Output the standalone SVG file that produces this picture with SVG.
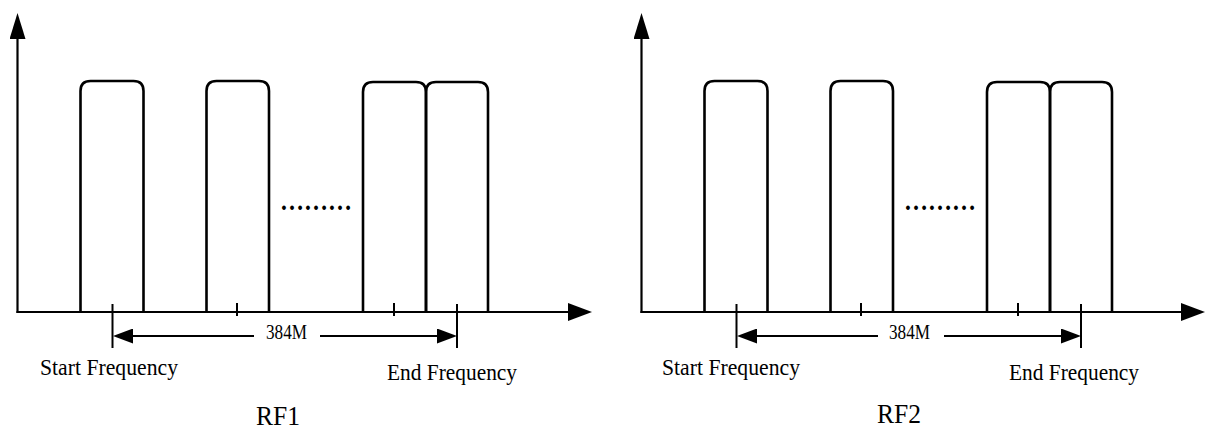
<svg xmlns="http://www.w3.org/2000/svg" width="1216" height="430" viewBox="0 0 1216 430">
  <style>
    .pulse { fill: none; stroke: #000; stroke-width: 2.6; stroke-linejoin: round; }
    .axis { stroke: #000; stroke-width: 2.2; fill: none; }
    .tick { stroke: #000; stroke-width: 2; }
    .dim { stroke: #000; stroke-width: 1.8; fill: none; }
    .lbl { font-family: "Liberation Serif", "Times New Roman", serif; fill: #000; }
    .dots { font-family: "Liberation Serif", "Times New Roman", serif; font-weight: bold; fill: #000; }
  </style>
  <defs>
    <marker id="axArrowY" viewBox="0 0 26 16" refX="0" refY="8" markerWidth="26" markerHeight="16" markerUnits="userSpaceOnUse" orient="auto">
      <path d="M0,0 L26,8 L0,16 z" fill="#000"/>
    </marker>
    <marker id="axArrowX" viewBox="0 0 24 18" refX="0" refY="9" markerWidth="24" markerHeight="18" markerUnits="userSpaceOnUse" orient="auto">
      <path d="M0,0 L24,9 L0,18 z" fill="#000"/>
    </marker>
    <marker id="dimArrow" viewBox="0 0 20 15" refX="0" refY="7.5" markerWidth="20" markerHeight="15" markerUnits="userSpaceOnUse" orient="auto">
      <path d="M0,0 L20,7.5 L0,15 z" fill="#000"/>
    </marker>
  </defs>

  <!-- ===== RF1 panel ===== -->
  <g id="rf1-panel">
    <g id="rf1-pulse1"><path class="pulse" d="M80.5,312 V91 Q80.5,81 90.5,81 H133.5 Q143.5,81 143.5,91 V312"/></g>
    <g id="rf1-pulse2"><path class="pulse" d="M206.5,312 V91 Q206.5,81 216.5,81 H259 Q269,81 269,91 V312"/></g>
    <g id="rf1-pulse3"><path class="pulse" d="M363,312 V92 Q363,82 373,82 H416 Q426,82 426,92 V312"/></g>
    <g id="rf1-pulse4"><path class="pulse" d="M426,312 V92 Q426,82 436,82 H478 Q488,82 488,92 V312"/></g>
    <g id="rf1-dots"><text class="dots" x="280" y="210" font-size="27" textLength="72" lengthAdjust="spacingAndGlyphs">………</text></g>
    <g id="rf1-ticks">
      <line class="tick" x1="112.5" y1="304" x2="112.5" y2="348"/>
      <line class="tick" x1="237" y1="303" x2="237" y2="316"/>
      <line class="tick" x1="394" y1="303" x2="394" y2="316"/>
      <line class="tick" x1="457" y1="304" x2="457" y2="348"/>
    </g>
    <g id="rf1-dim-label"><text class="lbl" x="266" y="339" font-size="20" textLength="41" lengthAdjust="spacingAndGlyphs">384M</text></g>
    <g id="rf1-start"><text class="lbl" x="40" y="375" font-size="23" textLength="138" lengthAdjust="spacingAndGlyphs">Start Frequency</text></g>
    <g id="rf1-end"><text class="lbl" x="387" y="380" font-size="23" textLength="130" lengthAdjust="spacingAndGlyphs">End Frequency</text></g>
    <g id="rf1-title"><text class="lbl" x="256" y="425" font-size="27" textLength="44" lengthAdjust="spacingAndGlyphs">RF1</text></g>
  </g>

  <!-- ===== RF2 panel ===== -->
  <g id="rf2-panel">
    <g id="rf2-pulse1"><path class="pulse" d="M704.5,312 V91 Q704.5,81 714.5,81 H757.5 Q767.5,81 767.5,91 V312"/></g>
    <g id="rf2-pulse2"><path class="pulse" d="M830.5,312 V91 Q830.5,81 840.5,81 H883 Q893,81 893,91 V312"/></g>
    <g id="rf2-pulse3"><path class="pulse" d="M987,312 V92 Q987,82 997,82 H1040 Q1050,82 1050,92 V312"/></g>
    <g id="rf2-pulse4"><path class="pulse" d="M1050,312 V92 Q1050,82 1060,82 H1102 Q1112,82 1112,92 V312"/></g>
    <g id="rf2-dots"><text class="dots" x="904" y="210" font-size="27" textLength="72" lengthAdjust="spacingAndGlyphs">………</text></g>
    <g id="rf2-ticks">
      <line class="tick" x1="736.5" y1="304" x2="736.5" y2="348"/>
      <line class="tick" x1="861" y1="303" x2="861" y2="316"/>
      <line class="tick" x1="1018" y1="303" x2="1018" y2="316"/>
      <line class="tick" x1="1081" y1="304" x2="1081" y2="348"/>
    </g>
    <g id="rf2-dim-label"><text class="lbl" x="889" y="339" font-size="20" textLength="41" lengthAdjust="spacingAndGlyphs">384M</text></g>
    <g id="rf2-start"><text class="lbl" x="662" y="375" font-size="23" textLength="138" lengthAdjust="spacingAndGlyphs">Start Frequency</text></g>
    <g id="rf2-end"><text class="lbl" x="1009" y="380" font-size="23" textLength="130" lengthAdjust="spacingAndGlyphs">End Frequency</text></g>
    <g id="rf2-title"><text class="lbl" x="877" y="423" font-size="27" textLength="44" lengthAdjust="spacingAndGlyphs">RF2</text></g>
  </g>

  <!-- ===== connectors: axes and dimension arrows ===== -->
  <g id="connectors">
    <line class="axis" x1="17.5" y1="313" x2="17.5" y2="39" marker-end="url(#axArrowY)"/>
    <line class="axis" x1="16.5" y1="312" x2="568" y2="312" marker-end="url(#axArrowX)"/>
    <line class="dim" x1="254" y1="336" x2="133" y2="336" marker-end="url(#dimArrow)"/>
    <line class="dim" x1="320" y1="336" x2="437" y2="336" marker-end="url(#dimArrow)"/>

    <line class="axis" x1="641.5" y1="313" x2="641.5" y2="39" marker-end="url(#axArrowY)"/>
    <line class="axis" x1="640.5" y1="312" x2="1181" y2="312" marker-end="url(#axArrowX)"/>
    <line class="dim" x1="878" y1="336" x2="757" y2="336" marker-end="url(#dimArrow)"/>
    <line class="dim" x1="944" y1="336" x2="1061" y2="336" marker-end="url(#dimArrow)"/>
  </g>
</svg>
